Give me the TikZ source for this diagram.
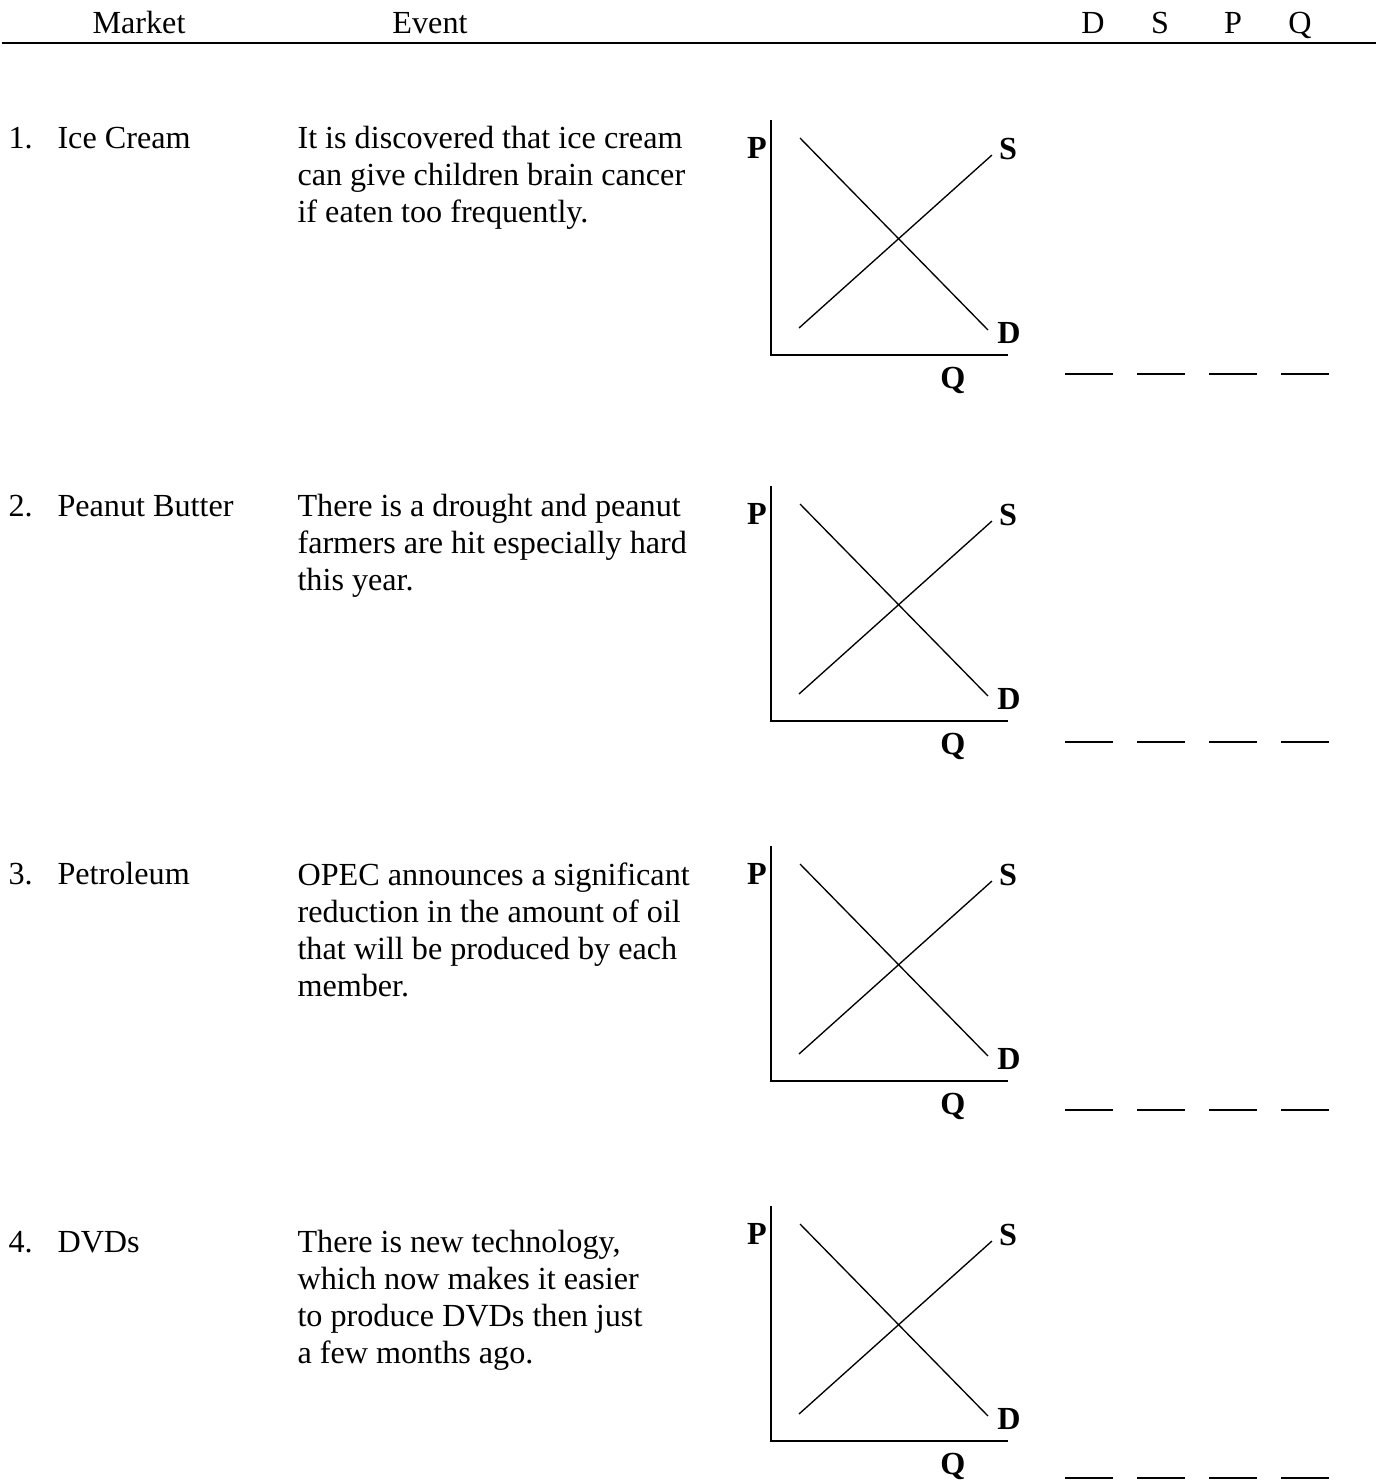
\documentclass[tikz,border=0pt]{standalone}
\usepackage{fontspec}
\setmainfont{Liberation Serif}
\tikzset{
    axis/.style={line width=0.75pt},
    curve/.style={line width=0.5pt},
    lbl/.style={font=\bfseries\fontsize{12}{13.8}\selectfont, inner sep=0, anchor=base},
    head/.style={inner sep=0, anchor=base},
    blank/.style={line width=0.7pt},
    evt/.style={inner sep=0, anchor=north west, align=left}
}

\begin{document}
\begin{tikzpicture}[x=0.373pt, y=-0.373pt, font=\fontsize{12}{13.8}\selectfont]
    \useasboundingbox (0,0) rectangle (1376,1484);
    % header
    \node[head] (hm) at (139,33) {Market};
    \node[head] (he) at (430,33) {Event};
    \foreach \c/\x in {D/1093, S/1160, P/1233, Q/1300}
        \node[head] (h\c) at (\x,33) {\c};
    \draw[line width=1pt] (2,43) -- (1376,43);
    % one row per market
    \foreach \mkt/\evt/\gy [count=\i] in {
        {Ice Cream}/{It is discovered that ice cream\\can give children brain cancer\\if eaten too frequently.}/0,
        {Peanut Butter}/{There is a drought and peanut\\farmers are hit especially hard\\this year.}/366,
        {Petroleum}/{OPEC announces a significant\\reduction in the amount of oil\\that will be produced by each\\member.}/726,
        {DVDs}/{There is new technology,\\which now makes it easier\\to produce DVDs then just\\a few months ago.}/1086}{
        \pgfmathsetmacro{\dy}{368*(\i-1)}
        \begin{scope}[shift={(0,\dy)}]
            \node[head, anchor=base west] (n\i) at (8,148) {\i.};
            \node[head, anchor=base west] (m\i) at (57,148) {\mkt};
            \node[evt] (e\i) at (297,126) {\evt};
            % answer blanks
            \foreach \x in {1065,1137,1209,1281}
                \draw[blank] (\x,374) -- +(48,0);
        \end{scope}
        % supply and demand
        \begin{scope}[shift={(0,\gy)}]
            \coordinate (o\i) at (771,355);
            \draw[axis] (771,120) -- (o\i) -- (1008,355);
            \draw[curve] (800,138) -- (988,330);
            \draw[curve] (799,328) -- (992,155);
            \node[lbl] (p\i) at (757,158) {P};
            \node[lbl] (s\i) at (1008,159) {S};
            \node[lbl] (d\i) at (1009,343) {D};
            \node[lbl] (q\i) at (953,388) {Q};
        \end{scope}
    }
\end{tikzpicture}
\end{document}
